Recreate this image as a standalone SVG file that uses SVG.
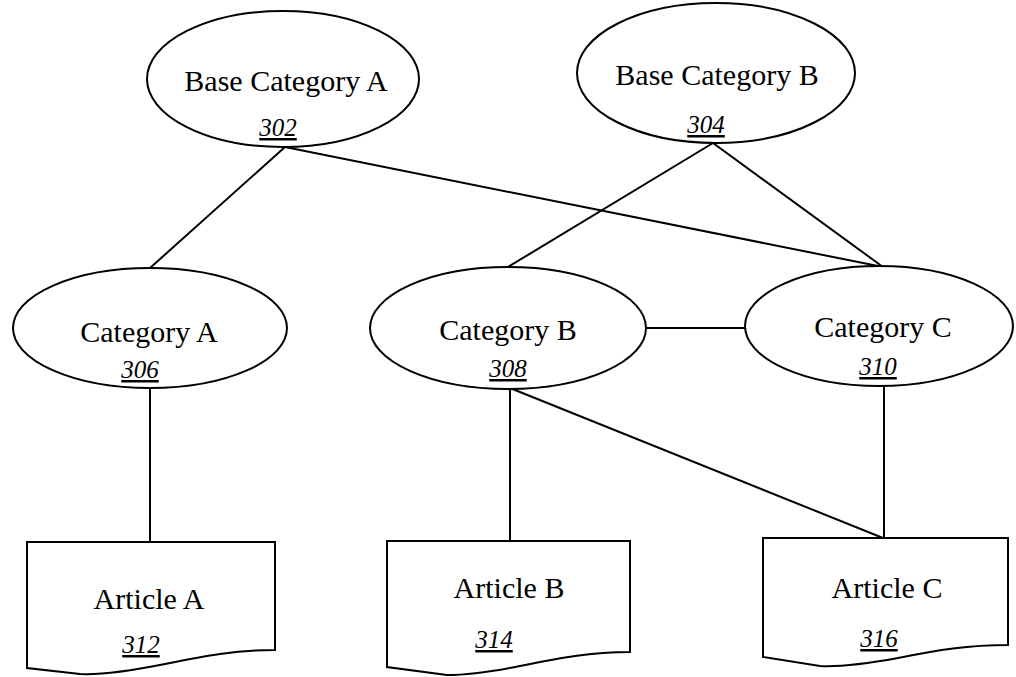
<svg xmlns="http://www.w3.org/2000/svg" width="1016" height="677" viewBox="0 0 1016 677">
<style>
.shape{fill:#fff;stroke:#000;stroke-width:2}
.lbl{font-family:"Liberation Serif","Times New Roman",serif;font-size:30px;fill:#000;text-anchor:middle}
.num{font-family:"Liberation Serif","Times New Roman",serif;font-size:25px;font-style:italic;fill:#000;text-anchor:middle;text-decoration:underline}
#connectors line{stroke:#000;stroke-width:2}
</style>
<rect width="1016" height="677" fill="#fff"/>
<g id="connectors">
<line x1="285" y1="147" x2="150" y2="268"/>
<line x1="285" y1="147" x2="883" y2="267"/>
<line x1="713" y1="143" x2="508" y2="267"/>
<line x1="713" y1="143" x2="883" y2="267"/>
<line x1="647" y1="328" x2="745" y2="328"/>
<line x1="150" y1="388" x2="150" y2="542"/>
<line x1="510" y1="388" x2="510" y2="541"/>
<line x1="510" y1="388" x2="883" y2="538"/>
<line x1="884" y1="386" x2="884" y2="538"/>
</g>
<g id="base-a">
<ellipse class="shape" cx="283" cy="79" rx="136" ry="68"/>
<text class="lbl" x="286" y="91">Base Category A</text>
<text class="num" x="278" y="136">302</text>
</g>
<g id="base-b">
<ellipse class="shape" cx="716" cy="73" rx="139" ry="70"/>
<text class="lbl" x="717" y="85">Base Category B</text>
<text class="num" x="706" y="133">304</text>
</g>
<g id="cat-a">
<ellipse class="shape" cx="150" cy="328" rx="137" ry="60"/>
<text class="lbl" x="149" y="342">Category A</text>
<text class="num" x="140" y="378">306</text>
</g>
<g id="cat-b">
<ellipse class="shape" cx="508" cy="328" rx="138" ry="61"/>
<text class="lbl" x="508" y="340">Category B</text>
<text class="num" x="508" y="377">308</text>
</g>
<g id="cat-c">
<ellipse class="shape" cx="879" cy="326" rx="134" ry="60"/>
<text class="lbl" x="883" y="337">Category C</text>
<text class="num" x="878" y="375">310</text>
</g>
<g id="art-a">
<path class="shape" d="M27,542 H275 V650 C235,650 205,656 165,664 C125,672 100,675 80,674 L27,668 Z"/>
<text class="lbl" x="149" y="609">Article A</text>
<text class="num" x="141" y="653">312</text>
</g>
<g id="art-b">
<path class="shape" d="M387,541 H630 V652 C590,652 560,658 520,666 C485,673 465,675 447,675 L387,667 Z"/>
<text class="lbl" x="509" y="598">Article B</text>
<text class="num" x="494" y="648">314</text>
</g>
<g id="art-c">
<path class="shape" d="M763,538 H1008 V645 C968,645 938,650 898,658 C860,665 840,667 820,666 L763,657 Z"/>
<text class="lbl" x="887" y="598">Article C</text>
<text class="num" x="879" y="647">316</text>
</g>
</svg>
